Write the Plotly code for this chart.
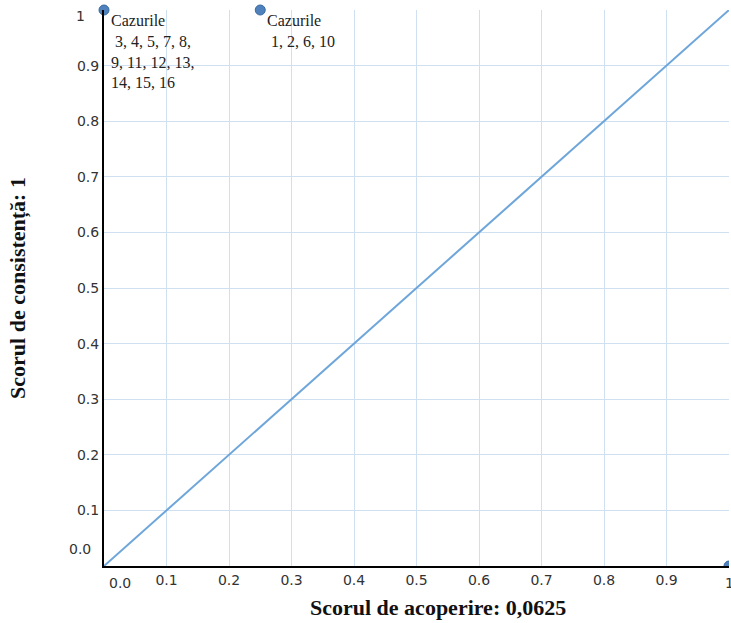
import plotly.graph_objects as go

# date
linie_x = [0, 1]
linie_y = [0, 1]
puncte_x = [0, 0.25, 1]
puncte_y = [1, 1, 0]
etichete_puncte = ["Cazurile<br> 3, 4, 5, 7, 8,<br>9, 11, 12, 13,<br>14, 15, 16",
                   "Cazurile<br> 1, 2, 6, 10", ""]
ticks = [0.1, 0.2, 0.3, 0.4, 0.5, 0.6, 0.7, 0.8, 0.9]
tick_text = ["0.1", "0.2", "0.3", "0.4", "0.5", "0.6", "0.7", "0.8", "0.9"]
titlu_x = "<b>Scorul de acoperire: 0,0625</b>"
titlu_y = "<b>Scorul de consistență: 1</b>"

serif = "Liberation Serif, DejaVu Serif, serif"
sans = "DejaVu Sans, Verdana, sans-serif"
grid = "#cfe0f1"
marker = dict(size=10, color="#4f81bd", line=dict(color="#3a6aa0", width=1))

fig = go.Figure()

fig.add_trace(go.Scatter(
    x=linie_x, y=linie_y, mode="lines",
    line=dict(color="#6fa6da", width=2),
    hoverinfo="skip", cliponaxis=False
))

# punctele de sus (vizibile complet)
fig.add_trace(go.Scatter(
    x=puncte_x[:2], y=puncte_y[:2], mode="markers",
    marker=marker, cliponaxis=False
))
# punctul din coltul dreapta-jos (taiat de axe)
fig.add_trace(go.Scatter(
    x=puncte_x[2:], y=puncte_y[2:], mode="markers",
    marker=marker, cliponaxis=True
))

# etichete pentru cazuri
for px, py, txt in zip(puncte_x, puncte_y, etichete_puncte):
    if not txt:
        continue
    fig.add_annotation(
        x=px, y=py, text=txt, showarrow=False,
        xanchor="left", yanchor="top", align="left",
        xshift=5, yshift=0,
        font=dict(family=serif, size=16, color="#222")
    )

# etichete neregulate din colturi
colt = [
    dict(x=0, y=0, text="0.0", xref="x", yref="paper", xshift=16, yshift=-17, xanchor="center", yanchor="middle"),
    dict(x=1, y=0, text="1", xref="x", yref="paper", xshift=0, yshift=-17, xanchor="center", yanchor="middle"),
    dict(x=0, y=0, text="0.0", xref="paper", yref="y", xshift=-11, yshift=17, xanchor="right", yanchor="middle"),
    dict(x=0, y=1, text="1", xref="paper", yref="y", xshift=-17, yshift=-6, xanchor="right", yanchor="middle"),
]
for c in colt:
    fig.add_annotation(showarrow=False, font=dict(family=sans, size=14, color="#333"), **c)

# titlul axei x (deplasat spre dreapta ca in original)
fig.add_annotation(
    x=0.5, y=0, xref="paper", yref="paper", text=titlu_x, showarrow=False,
    xanchor="center", yanchor="middle", xshift=21, yshift=-41,
    font=dict(family=serif, size=22, color="#111")
)

fig.update_layout(
    width=731, height=623,
    margin=dict(l=104, r=2, t=10, b=57),
    paper_bgcolor="white", plot_bgcolor="white",
    showlegend=False,
    xaxis=dict(
        range=[0, 1], tickvals=ticks + [1], ticktext=tick_text + [""],
        showgrid=True, gridcolor=grid, gridwidth=1,
        zeroline=False, showline=True, linecolor="black", linewidth=2,
        ticks="", tickfont=dict(family=sans, size=14, color="#333"),
    ),
    yaxis=dict(
        range=[0, 1], tickvals=ticks + [1], ticktext=tick_text + [""],
        showgrid=True, gridcolor=grid, gridwidth=1,
        zeroline=False, showline=True, linecolor="black", linewidth=2,
        ticks="", tickfont=dict(family=sans, size=14, color="#333"),
        title=dict(text=titlu_y,
                   font=dict(family=serif, size=22, color="#111"), standoff=45),
    ),
)

fig.write_html("out.html", config={"displayModeBar": False},
               post_script="document.body.style.margin='0';")
